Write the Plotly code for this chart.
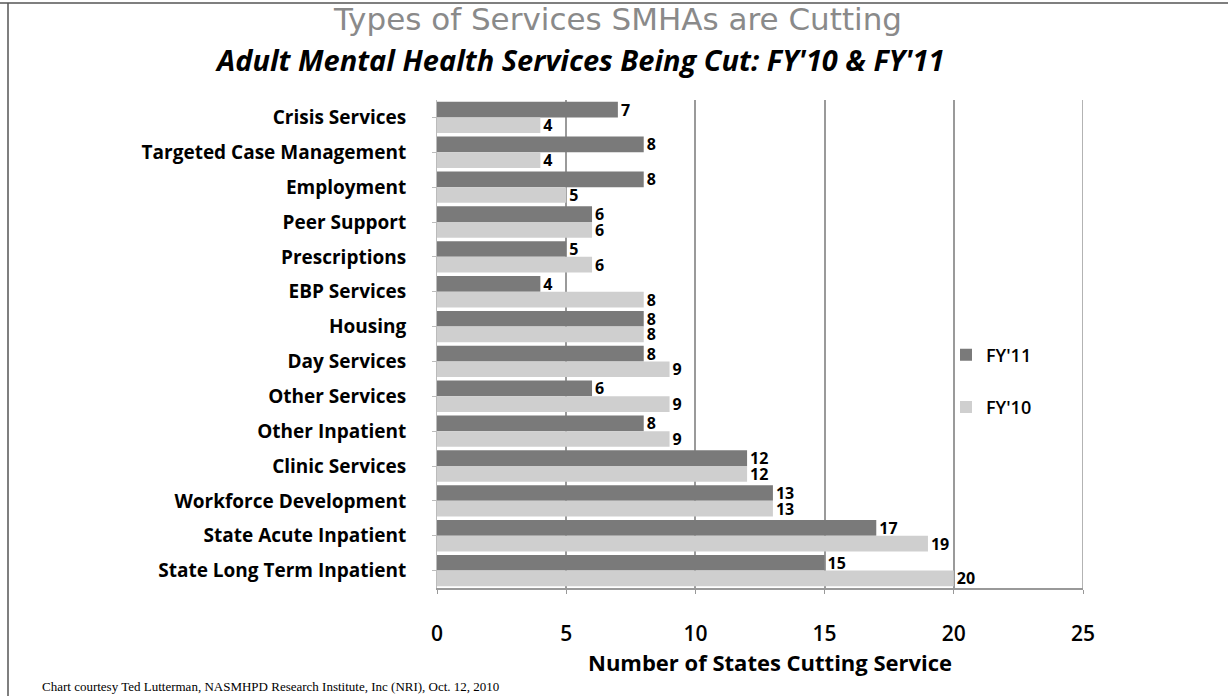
import plotly.graph_objects as go

categories = ["Crisis Services", "Targeted Case Management", "Employment", "Peer Support",
              "Prescriptions", "EBP Services", "Housing", "Day Services", "Other Services",
              "Other Inpatient", "Clinic Services", "Workforce Development",
              "State Acute Inpatient", "State Long Term Inpatient"]
fy11 = [7, 8, 8, 6, 5, 4, 8, 8, 6, 8, 12, 13, 17, 15]
fy10 = [4, 4, 5, 6, 6, 8, 8, 9, 9, 9, 12, 13, 19, 20]
x_ticks = [0, 5, 10, 15, 20, 25]

L, R, T, B = 437, 1228 - 1083, 100, 696 - 588
plot_h = 696 - T - B
plot_w = 1228 - L - R
def py(pix):
    return (696 - B - pix) / plot_h
def px(pix):
    return (pix - L) / plot_w

label_font = dict(family="Open Sans", size=16, color="black", weight="bold")

fig = go.Figure()
fig.add_trace(go.Bar(y=categories, x=fy11, orientation="h", name="FY'11", legendgroup="a",
                     marker=dict(color="#7a7a7a", line=dict(width=0)),
                     text=fy11, textposition="outside", cliponaxis=False, constraintext="none",
                     textfont=label_font))
fig.add_trace(go.Bar(y=categories, x=fy10, orientation="h", name="FY'10", legendgroup="b",
                     marker=dict(color="#cfcfcf", line=dict(width=0)),
                     text=fy10, textposition="outside", cliponaxis=False, constraintext="none",
                     textfont=label_font))

fig.update_layout(
    width=1228, height=696,
    paper_bgcolor="white", plot_bgcolor="white",
    barmode="group", bargap=0.1, bargroupgap=0.0,
    margin=dict(l=L, r=R, t=T, b=B, autoexpand=False),
    font=dict(family="Open Sans", color="black"),
    showlegend=True,
    legend=dict(x=px(946), y=py(381), xanchor="left", yanchor="middle",
                font=dict(family="Open Sans", size=18, color="black", weight=600),
                traceorder="grouped", tracegroupgap=26, bgcolor="rgba(0,0,0,0)"),
    annotations=[
        dict(text="Types of Services SMHAs are Cutting", x=px(617), y=py(19), xref="paper",
             yref="paper", xanchor="center", yanchor="middle", showarrow=False,
             font=dict(family="DejaVu Sans", size=31, color="#8a8a8a")),
        dict(text="<b><i>Adult Mental Health Services Being Cut: FY'10 &amp; FY'11</i></b>",
             x=px(580), y=py(60), xref="paper", yref="paper", xanchor="center", yanchor="middle",
             showarrow=False, font=dict(family="Open Sans", size=29, color="black")),
        dict(text="<b>Number of States Cutting Service</b>",
             x=px(770), y=py(662), xref="paper", yref="paper", xanchor="center", yanchor="middle",
             showarrow=False, font=dict(family="Open Sans", size=22, color="black")),
        dict(text="Chart courtesy Ted Lutterman, NASMHPD Research Institute, Inc (NRI), Oct. 12, 2010",
             x=px(40), y=py(686), xref="paper", yref="paper", xanchor="left", yanchor="middle",
             showarrow=False, font=dict(family="Liberation Serif", size=13, color="black")),
    ],
)

fig.update_xaxes(range=[0, 25], tickvals=x_ticks, ticktext=[str(v) for v in x_ticks],
                 showgrid=True, gridcolor="#9a9a9a", gridwidth=1.5, zeroline=False,
                 showline=True, linecolor="#999999", linewidth=1.5,
                 ticks="outside", ticklen=4, tickcolor="#999999",
                 ticklabelstandoff=22, automargin=False,
                 tickfont=dict(family="Open Sans", size=21, color="black", weight=600))
fig.update_yaxes(autorange="reversed", showgrid=False, showline=True, linecolor="#bbbbbb",
                 ticks="outside", ticklen=4, tickcolor="#bbbbbb", automargin=False,
                 tickfont=dict(family="Open Sans", size=19, color="black", weight="bold"),
                 ticklabelstandoff=22)

fig.add_shape(type="line", xref="x", yref="paper", x0=25, x1=25, y0=0, y1=1,
              line=dict(color="#9a9a9a", width=1.5), layer="below")
fig.add_shape(type="line", xref="paper", yref="paper", x0=px(0), x1=px(1228), y0=py(3), y1=py(3),
              line=dict(color="#555555", width=1.5))
fig.add_shape(type="line", xref="paper", yref="paper", x0=px(8), x1=px(8), y0=py(3), y1=py(696),
              line=dict(color="#555555", width=1.5))

fig.write_html("out.html", config={"displayModeBar": False},
               post_script="document.body.style.margin='0';document.body.style.overflow='hidden';")
